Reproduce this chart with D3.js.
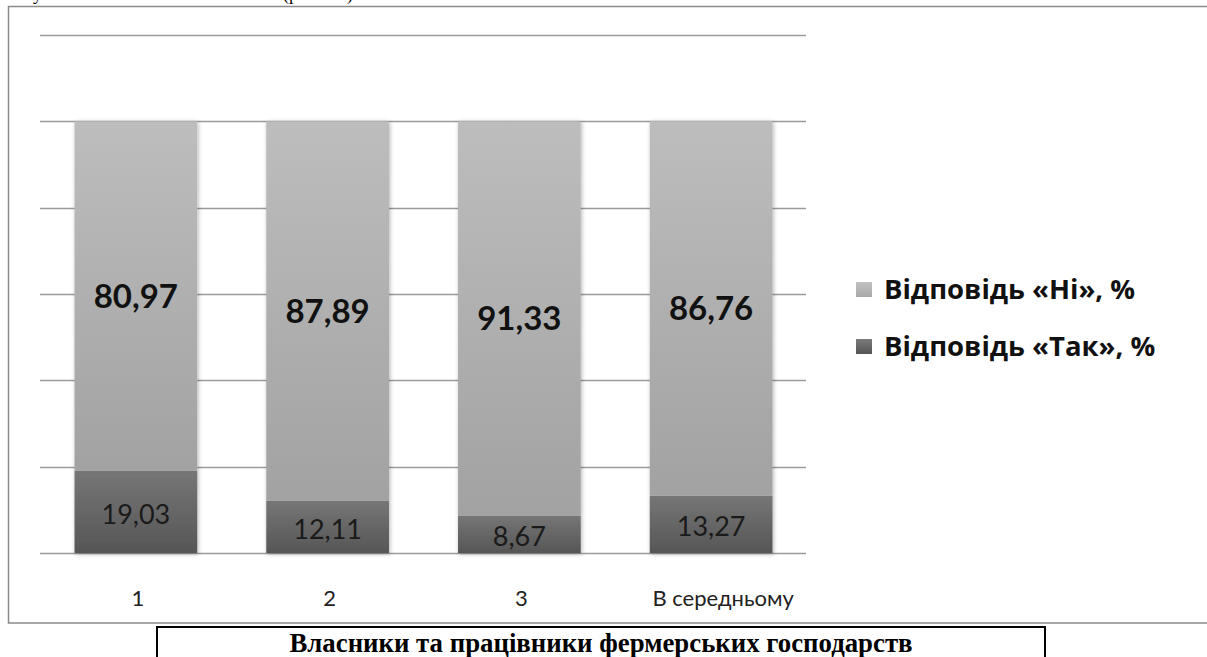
<!DOCTYPE html>
<meta charset="utf-8">
<style>
body { margin: 0; background: #fff; }
svg { display: block; }
.cat { font: 22px Lato, "Open Sans", sans-serif; fill: #222; }
.legend text { font: bold 27.5px "Open Sans", Lato, sans-serif; fill: #111; }
</style>
<svg width="1207" height="657"></svg>
<script src="https://d3js.org/d3.v7.min.js"></script>
<script>

var categories = ["1", "2", "3", "В середньому"];
var noValues = [80.97, 87.89, 91.33, 86.76];
var yesValues = [19.03, 12.11, 8.67, 13.27];
var seriesNames = ["Відповідь «Ні», %", "Відповідь «Так», %"];
var gridTicks = [0, 20, 40, 60, 80, 100, 120];
var caption = "Власники та працівники фермерських господарств";

var svg = d3.select("svg");
var fmt = function(v) { return v.toFixed(2).replace(".", ","); };

var x = d3.scaleBand().domain(categories).range([40, 807]).paddingInner(0.36).paddingOuter(0.18);
var y = d3.scaleLinear().domain([0, 120]).range([553, 35]);

var defs = svg.append("defs");
function grad(id, c1, c2) {
  var g = defs.append("linearGradient").attr("id", id)
      .attr("x1", 0).attr("y1", 0).attr("x2", 0).attr("y2", 1);
  g.append("stop").attr("offset", "0%").attr("stop-color", c1);
  g.append("stop").attr("offset", "100%").attr("stop-color", c2);
}
grad("gNo", "#bdbdbd", "#a2a2a2");
grad("gYes", "#767676", "#565656");
grad("lNo", "#c2c2c2", "#a8a8a8");
grad("lYes", "#7a7a7a", "#555555");
var f = defs.append("filter").attr("id", "sh").attr("x", -0.1).attr("y", -0.1).attr("width", 1.2).attr("height", 1.2);
f.append("feDropShadow").attr("dx", 1).attr("dy", 1).attr("stdDeviation", 2)
  .attr("flood-color", "#000").attr("flood-opacity", 0.3);

// line of body text above the frame, cut off by the page edge as in the source
svg.append("text").attr("x", 33).attr("y", 0)
  .style("font", "18px 'Liberation Serif', serif").text("у");
svg.append("text").attr("x", 283).attr("y", 0)
  .style("font", "18px 'Liberation Serif', serif").text("(рис. 3.5)");

// chart frame
svg.append("rect").attr("x", 8.5).attr("y", 6.5).attr("width", 1260).attr("height", 616.5)
  .attr("fill", "none").attr("stroke", "#8a8a8a").attr("stroke-width", 1.5);

// gridlines
svg.append("g").selectAll("line").data(gridTicks).join("line")
  .attr("x1", 40).attr("x2", 806)
  .attr("y1", function(d) { return Math.round(y(d)) + 0.5; })
  .attr("y2", function(d) { return Math.round(y(d)) + 0.5; })
  .attr("stroke", "#9a9a9a").attr("stroke-width", 1.5);

// bars
var bars = svg.append("g");
categories.forEach(function(c, i) {
  var g = bars.append("g").attr("filter", "url(#sh)");
  g.append("rect").attr("x", x(c)).attr("width", x.bandwidth())
    .attr("y", y(yesValues[i])).attr("height", y(0) - y(yesValues[i]))
    .attr("fill", "url(#gYes)");
  g.append("rect").attr("x", x(c)).attr("width", x.bandwidth())
    .attr("y", y(yesValues[i] + noValues[i])).attr("height", y(yesValues[i]) - y(yesValues[i] + noValues[i]))
    .attr("fill", "url(#gNo)");
});

// value labels
categories.forEach(function(c, i) {
  var cx = x(c) + x.bandwidth() / 2;
  svg.append("text").attr("x", cx)
    .attr("y", (y(yesValues[i]) + y(yesValues[i] + noValues[i])) / 2)
    .attr("text-anchor", "middle").attr("dy", "0.36em")
    .style("font", "bold 33px Lato, 'Open Sans', sans-serif").style("fill", "#111")
    .text(fmt(noValues[i]));
  svg.append("text").attr("x", cx)
    .attr("y", (y(0) + y(yesValues[i])) / 2 + 2)
    .attr("text-anchor", "middle").attr("dy", "0.36em")
    .style("font", "27px Lato, 'Open Sans', sans-serif").style("fill", "#1a1a1a")
    .text(fmt(yesValues[i]));
});

// category labels
svg.append("g").selectAll("text").data(categories).join("text")
  .attr("class", "cat")
  .attr("x", function(d) { return x(d) + x.bandwidth() / 2 + (d.length > 2 ? 12 : 2); })
  .attr("y", 606).attr("text-anchor", "middle")
  .text(function(d) { return d; });

// legend
var legend = svg.append("g").attr("class", "legend");
seriesNames.forEach(function(s, i) {
  var ly = 289 + i * 57;
  legend.append("rect").attr("x", 856).attr("y", ly - 7).attr("width", 16).attr("height", 15)
    .attr("fill", i === 0 ? "url(#lNo)" : "url(#lYes)");
  legend.append("text").attr("x", 884).attr("y", ly).attr("dy", "0.36em").text(s);
});

// caption box
svg.append("rect").attr("x", 157).attr("y", 627).attr("width", 888).attr("height", 60)
  .attr("fill", "#fff").attr("stroke", "#000").attr("stroke-width", 2);
svg.append("text").attr("x", 601).attr("y", 652).attr("text-anchor", "middle")
  .style("font", "bold 26.8px 'Liberation Serif', 'Times New Roman', serif")
  .text(caption);

</script>
